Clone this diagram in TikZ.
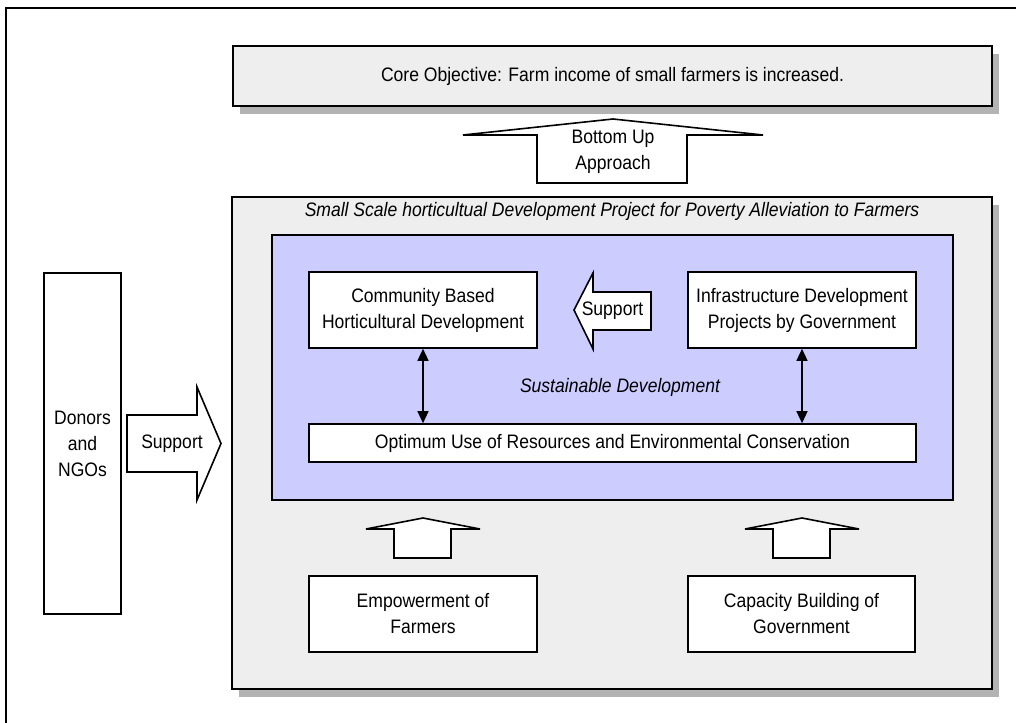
\documentclass[tikz,border=0pt]{standalone}
\usepackage{fontspec}
\newfontfamily\diagfont[FakeStretch=0.9]{Liberation Sans}
\usetikzlibrary{shadows,arrows.meta}
\definecolor{panelgray}{HTML}{EEEEEE}
\definecolor{shadowgray}{HTML}{B3B3B3}
\definecolor{lavender}{HTML}{CCCCFF}

\begin{document}
\begin{tikzpicture}[x=1pt,y=-1pt,
  txt/.style={font=\diagfont\fontsize{19.5}{26}\selectfont, align=center, inner sep=0pt},
  ittxt/.style={txt, font=\diagfont\itshape\fontsize{19.5}{26}\selectfont},
  box/.style={txt, draw, line width=1.6pt, fill=white},
  shadowed/.style={drop shadow={shadow xshift=7pt, shadow yshift=-8pt, fill=shadowgray, opacity=1}},
  bigarrow/.style={draw, line width=1.6pt, fill=white, line join=miter},
  link/.style={{Triangle[length=12pt,width=11pt]}-{Triangle[length=12pt,width=11pt]}, line width=1.3pt}
]
\path[use as bounding box] (0,0) rectangle (1016,722);
\clip (0,0) rectangle (1016,722);
\fill[white] (0,0) rectangle (1016,722);

% outer frame
\draw[line width=1.3pt] (6,740) -- (6,8) -- (1040,8);

% core objective
\node[box, fill=panelgray, shadowed, minimum width=759pt, minimum height=60pt] (core) at (612.5,76)
  {Core Objective: Farm income of small farmers is increased.};

% bottom-up arrow
\draw[bigarrow] (537,183) -- (537,135) -- (463,135) -- (613,119) -- (763,135) -- (687,135) -- (687,183) -- cycle;
\node[txt] (bottomup) at (613,152) {Bottom Up\\Approach};

% project panel
\node[box, fill=panelgray, shadowed, minimum width=760pt, minimum height=492pt] (project) at (612,443) {};
\node[ittxt] (projtitle) at (612,211)
  {Small Scale horticultual Development Project for Poverty Alleviation to Farmers};

% sustainable development area
\node[box, fill=lavender, minimum width=681pt, minimum height=265pt] (sustain) at (612.5,367.5) {};
\node[ittxt] (sustlabel) at (620,387) {Sustainable Development};

\node[box, minimum width=228pt, minimum height=76pt] (comm) at (423,310)
  {Community Based\\Horticultural Development};
\node[box, minimum width=228pt, minimum height=76pt] (infra) at (802,310)
  {Infrastructure Development\\Projects by Government};
\node[box, minimum width=607pt, minimum height=38pt] (optimum) at (612.5,443)
  {Optimum Use of Resources and Environmental Conservation};

% support arrow between projects
\draw[bigarrow] (651,292) -- (593,292) -- (593,273) -- (574,310) -- (593,349) -- (593,330) -- (651,330) -- cycle;
\node[txt] (innersupport) at (612.5,311) {Support};

\draw[link] (comm.south) -- (comm.south |- optimum.north);
\draw[link] (infra.south) -- (infra.south |- optimum.north);

% bottom inputs
\draw[bigarrow] (394,558) -- (394,529) -- (366,529) -- (423,518) -- (480,529) -- (451,529) -- (451,558) -- cycle;
\draw[bigarrow] (773,558) -- (773,529) -- (745,529) -- (802,518) -- (859,529) -- (830,529) -- (830,558) -- cycle;

\node[box, minimum width=228pt, minimum height=76pt] (empower) at (423,614)
  {Empowerment of\\Farmers};
\node[box, minimum width=227pt, minimum height=76pt] (capacity) at (801.5,614)
  {Capacity Building of\\Government};

% donors
\node[box, minimum width=77pt, minimum height=341pt] (donors) at (82.5,443.5)
  {Donors\\and\\NGOs};
\draw[bigarrow] (127,415) -- (197,415) -- (197,387) -- (221,443.5) -- (197,500) -- (197,472) -- (127,472) -- cycle;
\node[txt] (outersupport) at (172,443.5) {Support};
\end{tikzpicture}
\end{document}
